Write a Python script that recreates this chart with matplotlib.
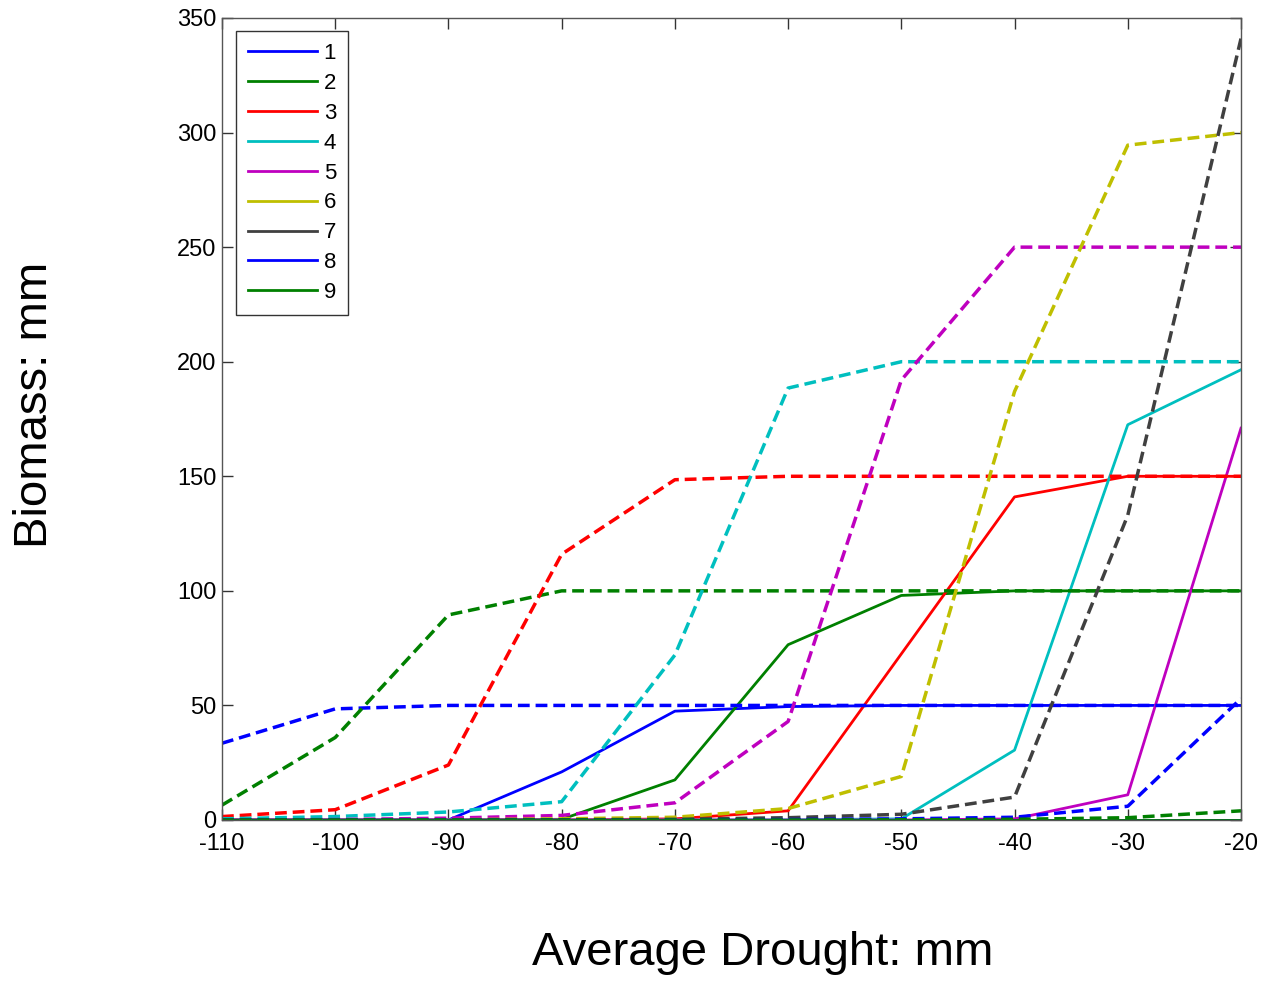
import matplotlib
matplotlib.use("Agg")
import matplotlib.pyplot as plt

plt.rcParams['font.family'] = ['Liberation Sans', 'DejaVu Sans']
plt.rcParams['axes.unicode_minus'] = False

drought = [-110, -100, -90, -80, -70, -60, -50, -40, -30, -20]
labels = ['1', '2', '3', '4', '5', '6', '7', '8', '9']

# solid series
s1 = [0, 0, 0, 21, 47.5, 49.5, 50, 50, 50, 50]
s2 = [0, 0, 0, 0.3, 17.5, 76.5, 98, 100, 100, 100]
s3 = [0, 0, 0, 0, 0.5, 4, 72.5, 141, 150, 150]
s4 = [0, 0, 0, 0, 0, 0.1, 0.5, 30.5, 172.5, 196.5]
s5 = [0, 0, 0, 0, 0, 0, 0, 0.5, 11, 171]
s6 = [0, 0, 0, 0, 0, 0, 0, 0, 0, 0]
s7 = [0, 0, 0, 0, 0, 0, 0, 0, 0, 0]
s8 = [0, 0, 0, 0, 0, 0, 0, 0, 0, 0]
s9 = [0, 0, 0, 0, 0, 0, 0, 0, 0, 0]

# dashed series
d1 = [33.5, 48.5, 50, 50, 50, 50, 50, 50, 50, 50]
d2 = [6.5, 36, 89.5, 100, 100, 100, 100, 100, 100, 100]
d3 = [1.5, 4.5, 24, 116, 148.5, 150, 150, 150, 150, 150]
d4 = [0.5, 1.5, 3.5, 8, 72, 188.5, 200, 200, 200, 200]
d5 = [0, 0.2, 0.8, 2, 7.5, 43, 192, 250, 250, 250]
d6 = [0, 0, 0.1, 0.5, 1.2, 5, 19, 187, 294.5, 300]
d7 = [0, 0, 0, 0.1, 0.3, 1, 2.5, 10, 133, 341]
d8 = [0, 0, 0, 0, 0, 0.2, 0.5, 1.2, 6, 53]
d9 = [0, 0, 0, 0, 0, 0, 0.1, 0.3, 1, 4]

colors = [(0, 0, 1), (0, 0.5, 0), (1, 0, 0), (0, 0.75, 0.75), (0.75, 0, 0.75),
          (0.75, 0.75, 0), (0.25, 0.25, 0.25), (0, 0, 1), (0, 0.5, 0)]

solid = [s1, s2, s3, s4, s5, s6, s7, s8, s9]
dashed = [d1, d2, d3, d4, d5, d6, d7, d8, d9]

fig = plt.figure(figsize=(12.61, 9.81), dpi=100)
ax = fig.add_axes([222/1261, 1-820/981, (1241-222)/1261, (820-18)/981])

handles = []
for ys, c, lab in zip(solid, colors, labels):
    h, = ax.plot(drought, ys, '-', color=c, lw=2.0, label=lab)
    handles.append(h)
for ys, c in zip(dashed, colors):
    ax.plot(drought, ys, '--', color=c, lw=2.5, dashes=(3.4, 1.7))

ax.set_xlim(-110, -20)
ax.set_ylim(0, 350)
ax.set_xticks(drought)
ax.set_yticks([0, 50, 100, 150, 200, 250, 300, 350])
ax.tick_params(direction='in', length=8, width=1, top=True, right=True,
               labelsize=17, color='#333333')
ax.tick_params(axis='x', pad=9)
ax.tick_params(axis='y', pad=4)
for sp in ax.spines.values():
    sp.set_color('#555555')
    sp.set_linewidth(1)

leg = ax.legend(handles=handles, loc='upper left', bbox_to_anchor=(0.0137, 0.984),
                borderaxespad=0, fontsize=16, handlelength=3.1, handletextpad=0.3,
                labelspacing=0.4, fancybox=False, framealpha=1, borderpad=0.55)
leg.get_frame().set_edgecolor('#333333')
leg.get_frame().set_linewidth(1)

fig.text(763/1261, 1-953/981, 'Average Drought: mm', fontsize=34, ha='center', va='center')
fig.text(35/1261, 1-405/981, 'Biomass: mm', fontsize=34, ha='center', va='center', rotation=90)

fig.savefig('out.png', dpi=100)
